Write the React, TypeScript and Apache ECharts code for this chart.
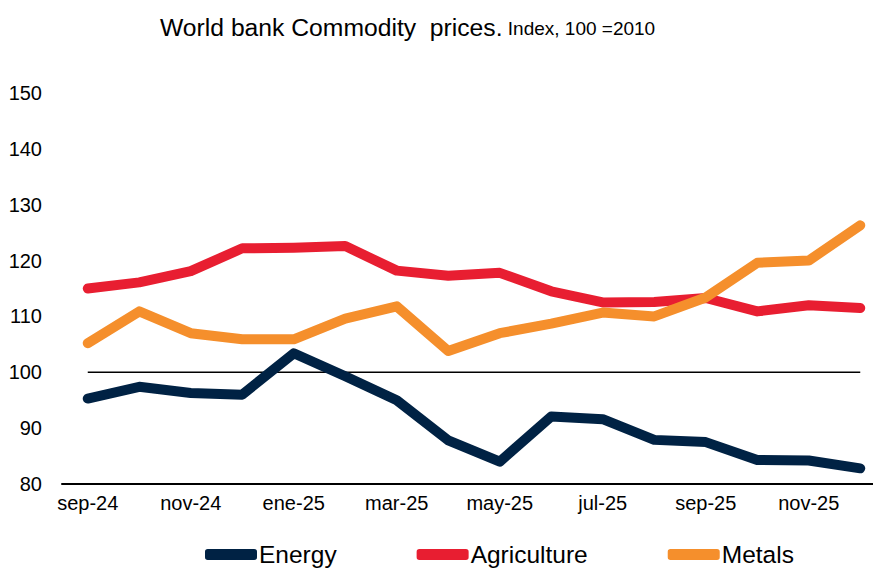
import React, { useEffect, useRef } from "react";
import * as echarts from "echarts";

const categories = [
  "sep-24", "oct-24", "nov-24", "dic-24", "ene-25", "feb-25", "mar-25", "abr-25",
  "may-25", "jun-25", "jul-25", "ago-25", "sep-25", "oct-25", "nov-25", "dic-25",
];
const energy = [95.3, 97.4, 96.3, 96.0, 103.4, 99.3, 95.0, 87.8, 84.0, 92.1, 91.6, 87.9, 87.5, 84.3, 84.2, 82.8];
const agriculture = [115.0, 116.1, 118.1, 122.2, 122.3, 122.6, 118.2, 117.3, 117.8, 114.5, 112.5, 112.6, 113.3, 110.9, 112.0, 111.5];
const metals = [105.2, 110.9, 107.0, 105.9, 105.9, 109.6, 111.8, 103.8, 107.0, 108.7, 110.7, 110.0, 113.4, 119.6, 120.0, 126.3];
const reference = categories.map(() => 100);
const yTicks = { min: 80, max: 150, interval: 10 };

export default function App() {
  const ref = useRef<HTMLDivElement>(null);
  useEffect(() => {
    if (!ref.current) return;
    const chart = echarts.init(ref.current, undefined, { renderer: "svg" });
    const font = "'Liberation Sans', Arial, sans-serif";
    const lineSeries = (name: string, data: number[], color: string) => ({
      name,
      type: "line",
      data,
      symbol: "none",
      z: 3,
      lineStyle: { color, width: 10, cap: "round", join: "round" },
      itemStyle: { color },
    });
    chart.setOption({
      animation: false,
      textStyle: { fontFamily: font },
      title: {
        left: 155,
        top: 10,
        text: "{a|World bank Commodity  prices.}{b| Index, 100 =2010}",
        textStyle: {
          fontWeight: "normal",
          rich: {
            a: { fontSize: 24.7, color: "#000", fontFamily: font, fontWeight: "normal", verticalAlign: "bottom" },
            b: { fontSize: 19, color: "#000", fontFamily: font, fontWeight: "normal", verticalAlign: "bottom", padding: [0, 0, 2, 0] },
          },
        },
      },
      legend: {
        bottom: -4,
        left: 200,
        itemWidth: 52,
        itemHeight: 11,
        itemGap: 80,
        icon: "roundRect",
        textStyle: { fontSize: 24.5, color: "#000", fontFamily: font, padding: [0, 0, 0, -3] },
        data: ["Energy", "Agriculture", "Metals"],
      },
      grid: { left: 62, width: 824, top: 93, bottom: 84, outerBoundsMode: "none", containLabel: false },
      xAxis: {
        type: "category",
        data: categories,
        boundaryGap: true,
        axisLine: { lineStyle: { color: "#000", width: 2 } },
        axisTick: { show: false },
        axisLabel: { interval: 1, color: "#000", fontSize: 20, margin: 9, fontFamily: font },
      },
      yAxis: {
        type: "value",
        min: yTicks.min,
        max: yTicks.max,
        interval: yTicks.interval,
        splitLine: { show: false },
        axisLine: { show: false },
        axisTick: { show: false },
        axisLabel: { color: "#000", fontSize: 20, margin: 20, fontFamily: font },
      },
      series: [
        {
          name: "ref100",
          type: "line",
          data: reference,
          symbol: "none",
          z: 2,
          silent: true,
          lineStyle: { color: "#000", width: 1.5 },
        },
        lineSeries("Energy", energy, "#002244"),
        lineSeries("Agriculture", agriculture, "#E81E31"),
        lineSeries("Metals", metals, "#F58F2C"),
      ],
    });
    return () => chart.dispose();
  }, []);
  return (
    <div
      ref={ref}
      style={{ position: "fixed", left: 0, top: 0, width: 873, height: 568, background: "#fff" }}
    />
  );
}
